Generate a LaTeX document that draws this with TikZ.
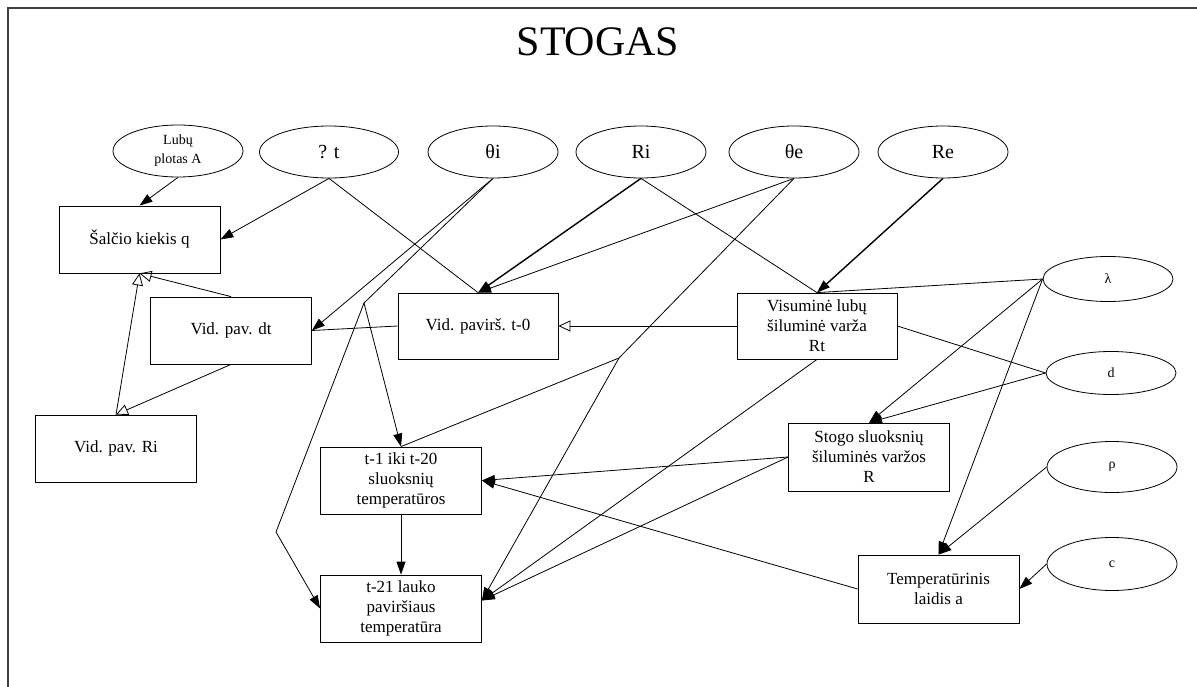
\documentclass[tikz,border=0pt]{standalone}
\usepackage{fontspec}
\setmainfont{Liberation Serif}
\usetikzlibrary{arrows.meta,shapes.geometric,calc}
\tikzset{
  boxn/.style={draw,line width=0.8pt,rectangle,minimum width=161pt,minimum height=67pt,inner sep=0pt,align=center,font=\fontsize{17}{20}\selectfont},
  ellbig/.style={draw,line width=0.8pt,ellipse,minimum width=130pt,minimum height=52pt,inner sep=0pt,align=center,font=\fontsize{20}{24}\selectfont},
  ellsmall/.style={draw,line width=0.8pt,ellipse,minimum width=130pt,minimum height=48pt,inner sep=0pt,align=center,font=\fontsize{14}{17}\selectfont},
  conn/.style={line width=0.8pt},
  arr/.style={conn,-{Triangle[length=13pt,width=9pt]}},
  gen/.style={conn,-{Triangle[open,length=12pt,width=11pt]}}
}
\begin{document}
\begin{tikzpicture}[x=1pt,y=-1pt]
\useasboundingbox (0,0) rectangle (1197,687);
\fill[white] (0,0) rectangle (1197,687);
\draw[line width=1.4pt,black!75] (8,687) -- (8,8) -- (1197,8);

\node (title) at (598,42) {\fontsize{42}{48}\selectfont STOGAS};

% ellipses
\node[ellbig,font=\fontsize{14}{19}\selectfont] (lubu) at (178,151) {Lubų\\plotas A};
\node[ellbig,minimum width=139pt] (qt) at (329,152) {? t};
\node[ellbig] (thi) at (493,152) {θi};
\node[ellbig] (ri) at (641,152) {Ri};
\node[ellbig] (the) at (794,152) {θe};
\node[ellbig] (re) at (943,152) {Re};
\node[ellsmall,minimum height=45pt] (lam) at (1108,279) {λ};
\node[ellsmall,minimum height=43pt] (dd) at (1111,373) {d};
\node[ellsmall,minimum height=51pt] (rho) at (1112,467) {ρ};
\node[ellsmall,minimum height=53pt] (cc) at (1112,564) {c};

% boxes
\node[boxn] (salcio) at (139.5,239.5) {Šalčio kiekis q};
\node[boxn] (dt) at (231,330.5) {Vid. pav. dt};
\node[boxn] (rib) at (116,448.5) {Vid. pav. Ri};
\node[boxn,minimum width=160pt,minimum height=66pt] (t0) at (478,326) {Vid. pavirš. t-0};
\node[boxn,minimum width=160pt,minimum height=66pt] (vis) at (817,326) {Visuminė lubų\\šiluminė varža\\Rt};
\node[boxn] (t1) at (401,480.5) {t-1 iki t-20\\sluoksnių\\temperatūros};
\node[boxn] (t21) at (401,608.5) {t-21 lauko\\paviršiaus\\temperatūra};
\node[boxn,minimum height=68pt] (stogo) at (869,457) {Stogo sluoksnių\\šiluminės varžos\\R};
\node[boxn,minimum height=68pt] (temp) at (938.5,589) {Temperatūrinis\\laidis a};

% bend points
\coordinate (b1) at (364,303);
\coordinate (b2) at (276,532);
\coordinate (b3) at (619,358);
\coordinate (t21e) at ($(t21.east)+(0,-8)$);

% connectors
\draw[arr] (lubu.south) -- (salcio.north);
\draw[arr] (qt.south) -- (salcio.east);
\draw[conn] (qt.south) -- (t0.north);
\draw[arr] (thi.south) -- (dt.east);
\draw[arr] (thi.south) -- (b1) -- (t1.north);
\draw[arr] (b1) -- (b2) -- (t21.west);
\draw[arr,line width=1.4pt] (ri.south) -- (t0.north);
\draw[conn] (ri.south) -- (vis.north);
\draw[arr] (the.south) -- (t0.north);
\draw[arr] (the.south) -- (b3) -- (t21e);
\draw[conn] (b3) -- (t1.north);
\draw[arr,line width=1.4pt] (re.south) -- (vis.north);
\draw[conn] (lam.west) -- (vis.north);
\draw[conn] (dd.west) -- (vis.east);
\draw[arr] (lam.west) -- (stogo.north);
\draw[arr] (dd.west) -- (stogo.north);
\draw[arr] (lam.west) -- (temp.north);
\draw[arr] (rho.west) -- (temp.north);
\draw[arr] (cc.west) -- (temp.east);
\draw[arr] (temp.west) -- (t1.east);
\draw[arr] (stogo.west) -- (t1.east);
\draw[arr] (stogo.west) -- (t21e);
\draw[arr] (vis.south) -- (t21e);
\draw[gen] (vis.west) -- (t0.east);
\draw[conn] (t0.west) -- (dt.east);
\draw[gen] (dt.north) -- (salcio.south);
\draw[gen] (rib.north) -- (salcio.south);
\draw[gen] (dt.south) -- (rib.north);
\draw[arr] (t1.south) -- (t21.north);
\end{tikzpicture}
\end{document}
